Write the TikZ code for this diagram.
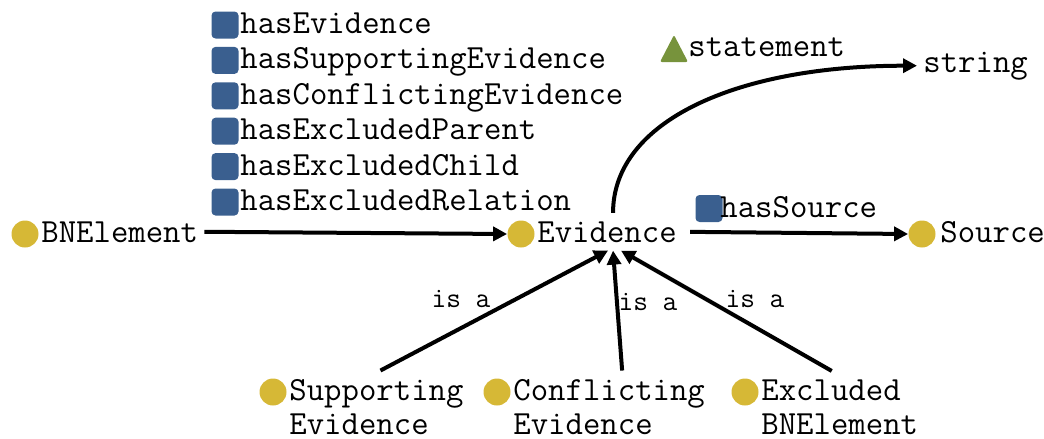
\documentclass[tikz,border=0pt]{standalone}
\usepackage{fontspec}
\usetikzlibrary{arrows.meta}
\definecolor{clsyellow}{RGB}{214,184,54}
\definecolor{propblue}{RGB}{58,95,143}
\definecolor{attrgreen}{RGB}{119,147,60}
\tikzset{
  cls/.style={circle, fill=clsyellow, inner sep=0pt, minimum size=13.5pt},
  prop/.style={rectangle, rounded corners=2pt, fill=propblue, inner sep=0pt, minimum width=13.5pt, minimum height=13.5pt},
  txt/.style={anchor=base west, font=\fontsize{16.9}{17}\selectfont\ttfamily, inner xsep=3pt, inner ysep=4pt},
  isa/.style={font=\fontsize{14.3}{15}\selectfont\ttfamily, inner sep=1pt},
  link/.style={line width=2pt, -{Triangle[length=7pt,width=7pt]}}
}
\begin{document}
\begin{tikzpicture}[x=0.5pt, y=-0.5pt]
	\useasboundingbox (0,0) rectangle (1044,439);
	
	% object properties
	\foreach \name [count=\i from 0] in {hasEvidence, hasSupportingEvidence, hasConflictingEvidence, hasExcludedParent, hasExcludedChild, hasExcludedRelation}{
		\node[prop] (p\i) at (225, 25+35.4*\i) {};
		\node[txt] (p\i-t) at (234, 33.5+35.4*\i) {\name};
	}
	
	% classes
	\node[cls] (bn) at (25,234) {};
	\node[txt] (bn-t) at (35,242) {BNElement};
	\node[cls] (ev) at (521,234) {};
	\node[txt] (ev-t) at (531,242) {Evidence};
	\node[cls] (src) at (922,234) {};
	\node[txt] (src-t) at (934,242) {Source};
	
	\node[prop] (hs) at (709,208.5) {};
	\node[txt] (hs-t) at (714,217) {hasSource};
	
	% data property
	\fill[attrgreen, rounded corners=1pt] (660,62) -- (674,35) -- (688,62) -- cycle;
	\node[txt] (st-t) at (682,56) {statement};
	\node[txt] (str) at (917,72) {string};
	
	% subclasses (base = last line)
	\node[cls] (sup) at (273,392) {};
	\node[txt, align=left] (sup-t) at (283,434) {Supporting\\Evidence};
	\node[cls] (con) at (497,392) {};
	\node[txt, align=left] (con-t) at (507,434) {Conflicting\\Evidence};
	\node[cls] (exc) at (745,392) {};
	\node[txt, align=left] (exc-t) at (755,434) {Excluded\\BNElement};
	
	\draw[link] (bn-t.east) -- (ev.west);
	\draw[link, shorten <=3.5pt] (ev-t.east) -- (src.west);
	\draw[link] ([xshift=3pt]ev-t.north) .. controls +(0,-92) and +(-180,0) .. (str.west);
	
	\draw[link] ([xshift=2pt]sup-t.north) -- ([xshift=0.5pt]ev-t.south);
	\draw[link] ([xshift=6.5pt]con-t.north) -- ([xshift=3pt]ev-t.south);
	\draw[link] ([xshift=-4pt]exc-t.north) -- ([xshift=7pt]ev-t.south);
	\node[isa] (isa1) at (461,299) {is a};
	\node[isa] (isa2) at (648,302) {is a};
	\node[isa] (isa3) at (755,299) {is a};
\end{tikzpicture}
\end{document}
